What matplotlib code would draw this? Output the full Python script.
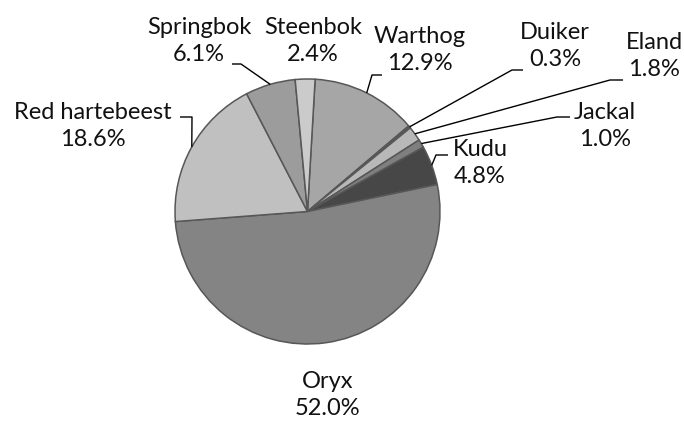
import numpy as np
import matplotlib
matplotlib.use("Agg")
import matplotlib.pyplot as plt

# ---- data ----
species = ["Warthog", "Duiker", "Eland", "Jackal", "Kudu", "Oryx",
           "Red hartebeest", "Springbok", "Steenbok"]
shares = [12.9, 0.3, 1.8, 1.0, 4.8, 52.0, 18.6, 6.1, 2.4]
colors = ["#a6a6a6", "#595959", "#b8b8b8", "#7f7f7f", "#474747", "#848484",
          "#c0c0c0", "#9c9c9c", "#cbcbcb"]

# ---- layout (pixel coordinates, y measured from top) ----
W, H = 684, 421
label_pos = {
    "Warthog": (420, 50), "Duiker": (555, 46), "Eland": (654, 56),
    "Jackal": (605, 126), "Kudu": (480, 163), "Oryx": (328, 395),
    "Red hartebeest": (93, 126), "Springbok": (199, 41), "Steenbok": (313, 41),
}
leaders = {
    "Warthog": ((382, 75), (372, 75)),
    "Duiker": ((523, 70), (512, 70)),
    "Eland": ((623, 80), (610, 80)),
    "Jackal": ((570, 117), (557, 117)),
    "Kudu": ((448, 155), (436, 155)),
    "Red hartebeest": ((180, 117), (192, 117)),
    "Springbok": ((232, 64), (241, 64)),
}

plt.rcParams["font.family"] = ["Lato", "DejaVu Sans"]

fig = plt.figure(figsize=(W / 100, H / 100), dpi=100)
ax = fig.add_axes([0, 0, 1, 1])

cx, cy, r = 307.5, H - 211.5, 132.5
wedges, _ = ax.pie(shares, colors=colors, startangle=86.7, counterclock=False,
                   center=(cx, cy), radius=r,
                   wedgeprops=dict(edgecolor="#575757", linewidth=1.1))

for w, name, v in zip(wedges, species, shares):
    x, y = label_pos[name]
    ax.text(x, H - y, f"{name}\n{v:.1f}%", ha="center", va="center",
            fontsize=17, color="#111111", linespacing=1.4,
            multialignment="center")
    if name in leaders:
        mid = np.deg2rad((w.theta1 + w.theta2) / 2)
        ex, ey = cx + r * np.cos(mid), cy + r * np.sin(mid)
        (sx, sy), (bx, by) = leaders[name]
        ax.plot([sx, bx, ex], [H - sy, H - by, ey], color="black", lw=1.0,
                solid_capstyle="butt", zorder=3)

ax.set_xlim(0, W)
ax.set_ylim(0, H)
ax.set_aspect("equal")
ax.axis("off")
fig.savefig("out.png", dpi=100, facecolor="white")
